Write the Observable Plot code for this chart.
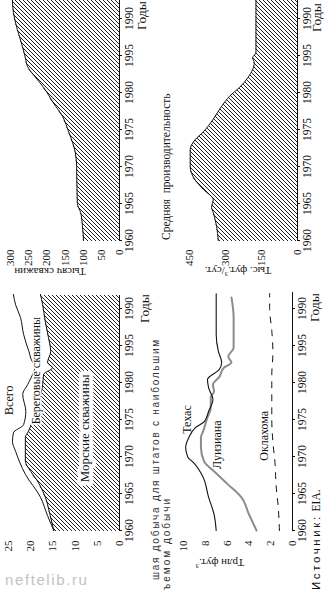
<!DOCTYPE html>
<html><head><meta charset="utf-8">
<script src="https://cdn.jsdelivr.net/npm/d3@7"></script>
<script src="https://cdn.jsdelivr.net/npm/@observablehq/plot@0.6"></script>
<style>
html,body{margin:0;padding:0;background:#fff;width:324px;height:591px;overflow:hidden}
#frame{position:absolute;left:0;top:0;width:591px;height:324px;transform-origin:0 0;transform:translate(0,591px) rotate(-90deg);overflow:hidden;font-family:"Liberation Serif",serif;color:#111;background:#fff}
#wm{position:absolute;left:5px;top:572px;font-family:"Liberation Sans",sans-serif;font-size:15px;line-height:16px;letter-spacing:1.6px;color:#c2c2c2;white-space:nowrap}
</style></head><body><div id="frame"></div><div id="wm">neftelib.ru</div>
<script>
// ---------- data ----------
const tickYears = [1960, 1965, 1970, 1975, 1980, 1985, 1990];
const tickYearLabels = ["1960", "1965", "1970", "1975", "1980", "1995", "1990"];

// Тысяч скважин
const wellYears = [1960, 1962, 1963.8, 1965, 1967, 1970, 1972, 1973.2, 1974.7, 1976.8, 1978.6, 1980.7, 1982.4, 1983.5, 1984.7, 1986.2, 1988.5, 1990.8, 1992.8];
const wellCounts = [99, 102, 107, 116, 117, 118, 122, 129, 140, 157, 182, 209, 237, 253, 259, 267, 281, 292, 295];
const wellTicks = [0, 50, 100, 150, 200, 250, 300];

// Всего / Морские скважины
const totalYears = [1960, 1962, 1964.5, 1967.6, 1970.7, 1972, 1973.2, 1974.3, 1976.1, 1978.4, 1979.7, 1981.5, 1982.3, 1982.7, 1984.2, 1986.5, 1988.8, 1990.5, 1991.9];
const totalValues = [14.8, 16.2, 17.8, 21.2, 23.4, 24.1, 23.9, 21.6, 21.1, 21.8, 20.7, 19.3, 18.9, 19.5, 20.4, 21.6, 22.3, 23.4, 23.9];
const seaYears = [1960, 1962, 1964.5, 1966.7, 1968, 1969.4, 1972.6, 1973.4, 1975.3, 1977.4, 1979.7, 1981.1, 1982, 1982.7, 1984.2, 1986.1, 1988.2, 1990.5, 1991.9];
const seaValues = [14.8, 15.6, 16.7, 18.5, 20.0, 21.2, 21.2, 20.5, 19.4, 18.2, 17.3, 17.1, 15.1, 16.2, 15.5, 16.0, 16.7, 17.3, 17.8];
const prodTicks = [0, 5, 10, 15, 20, 25];

// Штаты
const texasYears = [1960, 1962.2, 1964.5, 1967.2, 1969.2, 1969.9, 1971.2, 1972.6, 1973.9, 1974.7, 1976.1, 1977.7, 1979.3, 1980.4, 1981.8, 1982.7, 1984.2, 1986.5, 1988.8, 1992];
const texasValues = [7.0, 7.2, 7.7, 8.2, 9.1, 9.6, 9.8, 9.5, 8.9, 8.1, 7.7, 7.3, 7.7, 7.8, 6.7, 6.5, 6.8, 7.0, 7.0, 7.0];
const louisYears = [1960, 1962.2, 1964.5, 1966.2, 1968, 1969.3, 1971.2, 1972.6, 1973.4, 1975.3, 1976.6, 1978, 1978.8, 1979.7, 1980.8, 1982, 1982.7, 1983.5, 1984.7, 1986.5, 1988.8, 1991.5];
const louisValues = [3.3, 4.0, 4.7, 5.9, 7.2, 8.1, 8.4, 8.4, 8.2, 7.8, 7.5, 7.5, 7.2, 7.3, 6.7, 6.3, 5.6, 5.9, 5.4, 5.4, 5.4, 5.6];
const oklaYears = [1960, 1963, 1966, 1969, 1972, 1975, 1978, 1981, 1984, 1987, 1990, 1992];
const oklaValues = [1.2, 1.3, 1.5, 1.6, 1.8, 1.9, 1.9, 1.9, 1.8, 1.9, 2.1, 2.1];
const stateTicks = [0, 2, 4, 6, 8, 10];

// Средняя производительность
const rateYears = [1960, 1961.9, 1963.8, 1964.5, 1965.5, 1966.9, 1968.2, 1970, 1972.3, 1973.6, 1974.7, 1976.4, 1978.1, 1979.5, 1980.7, 1982, 1983.1, 1984, 1984.7, 1985.4, 1988, 1992.8];
const rateValues = [330, 337, 351, 358, 351, 392, 427, 447, 447, 427, 392, 351, 317, 283, 241, 207, 187, 180, 187, 173, 173, 173];
const rateTicks = [0, 150, 300, 450];

// labels
const prodLabels = [
  {year: 1977.6, value: 24.8, text: "Всего", size: 12, halo: 0},
  {year: 1981.6, value: 18.7, text: "Береговые скважины", size: 12, halo: 3},
  {year: 1973.8, value: 7.9, text: "Морские скважины", size: 13, halo: 8}
];
const stateLabels = [
  {year: 1975, value: 9.7, text: "Техас"},
  {year: 1971.6, value: 6.9, text: "Луизиана"},
  {year: 1972.8, value: 2.6, text: "Оклахома"}
];

// ---------- helpers ----------
const zip = (xs, ys) => xs.map((x, i) => ({year: x, value: ys[i]}));
const frame = document.getElementById("frame");
const SERIF = "Liberation Serif";
const yearFmt = d => tickYearLabels[tickYears.indexOf(d)];

function addHatch(svg, id) {
  const defs = d3.select(svg).insert("defs", ":first-child");
  const p = defs.append("pattern").attr("id", id).attr("patternUnits", "userSpaceOnUse").attr("width", 4).attr("height", 4);
  p.append("path").attr("d", "M-1,1L1,-1M0,4L4,0M3,5L5,3").attr("stroke", "#161616").attr("stroke-width", 0.95);
  d3.select(svg).selectAll("g[aria-label='area'] path").attr("fill", `url(#${id})`);
}
function place(svg, left, top) {
  svg.style.position = "absolute";
  svg.style.left = left + "px";
  svg.style.top = top + "px";
  svg.style.overflow = "visible";
  frame.appendChild(svg);
}
function txt(s, u, v, size, extra) {
  const d = document.createElement("div");
  d.innerHTML = s;
  d.style.cssText = `position:absolute;left:${u}px;top:${v - size * 0.6}px;font-size:${size}px;line-height:${size * 1.2}px;white-space:nowrap;` + (extra || "");
  frame.appendChild(d);
  return d;
}
function vtxt(s, u, v, size, extra) {
  const d = document.createElement("div");
  d.innerHTML = s;
  d.style.cssText = `position:absolute;left:${u}px;top:${v}px;font-size:${size}px;line-height:${size * 1.2}px;white-space:nowrap;transform-origin:0 0;transform:rotate(-90deg) translate(-50%,-50%);` + (extra || "");
  frame.appendChild(d);
  return d;
}
const baseStyle = {fontFamily: SERIF, fontSize: "11px", background: "transparent", color: "#111", overflow: "visible"};
function xAxis() {
  return Plot.axisX({ticks: tickYears, tickFormat: yearFmt, tickSize: 3, tickPadding: 2, fontSize: 11.5, fontFamily: SERIF, label: null});
}
function yAxis(ticks, pad) {
  return Plot.axisY({ticks, tickSize: 0, tickPadding: pad, fontSize: 11, fontFamily: SERIF, label: null});
}

// ---------- panel B: production (top-left) ----------
const seaData = zip(seaYears, seaValues);
const totalData = zip(totalYears, totalValues);
const pB = Plot.plot({
  width: 300, height: 160, marginLeft: 60, marginRight: 4, marginTop: 8, marginBottom: 41,
  x: {domain: [1960, 1960 + 236 / 7.4]},
  y: {domain: [0, 25]},
  style: baseStyle,
  marks: [
    Plot.areaY(seaData, {x: "year", y: "value", fill: "#999", curve: "monotone-x"}),
    Plot.lineY(seaData, {x: "year", y: "value", stroke: "#111", strokeWidth: 1, curve: "monotone-x"}),
    Plot.lineY(totalData, {x: "year", y: "value", stroke: "#111", strokeWidth: 1, curve: "monotone-x"}),
    Plot.ruleY([0], {stroke: "#111"}),
    Plot.text(prodLabels, {x: "year", y: "value", text: "text", fontSize: d => d.size, fontFamily: SERIF, fill: "#111", stroke: "white", strokeWidth: d => d.halo, strokeLinejoin: "round"}),
    xAxis(),
    yAxis(prodTicks, 10)
  ]
});
addHatch(pB, "hB");
place(pB, 0, 0);

// ---------- panel A: wells (top-right) ----------
const wellData = zip(wellYears, wellCounts);
const pA = Plot.plot({
  width: 303, height: 160, marginLeft: 60, marginRight: 0, marginTop: 10, marginBottom: 41,
  x: {domain: [1960, 1960 + 243 / 7.4]},
  y: {domain: [0, 300]},
  style: baseStyle,
  marks: [
    Plot.areaY(wellData, {x: "year", y: "value", fill: "#999", curve: "monotone-x"}),
    Plot.lineY(wellData, {x: "year", y: "value", stroke: "#111", strokeWidth: 1, curve: "monotone-x"}),
    Plot.ruleY([0], {stroke: "#111"}),
    xAxis(),
    yAxis(wellTicks, 9)
  ]
});
addHatch(pA, "hA");
place(pA, 290, 0);

// ---------- panel C: states (bottom-left) ----------
const pC = Plot.plot({
  width: 300, height: 164, marginLeft: 60, marginRight: 1, marginTop: 23, marginBottom: 32,
  x: {domain: [1960, 1960 + 239 / 7.4]},
  y: {domain: [0, 10]},
  style: baseStyle,
  marks: [
    Plot.lineY(zip(oklaYears, oklaValues), {x: "year", y: "value", stroke: "#111", strokeWidth: 1, strokeDasharray: "6,7", curve: "monotone-x"}),
    Plot.lineY(zip(louisYears, louisValues), {x: "year", y: "value", stroke: "#8c8c8c", strokeWidth: 2, curve: "monotone-x"}),
    Plot.lineY(zip(texasYears, texasValues), {x: "year", y: "value", stroke: "#111", strokeWidth: 1.1, curve: "monotone-x"}),
    Plot.ruleY([0], {stroke: "#111"}),
    Plot.text(stateLabels, {x: "year", y: "value", text: "text", fontSize: 12, fontFamily: SERIF, fill: "#111"}),
    xAxis(),
    yAxis(stateTicks, 10)
  ]
});
place(pC, 0, 160);

// ---------- panel D: productivity (bottom-right) ----------
const rateData = zip(rateYears, rateValues);
const pD = Plot.plot({
  width: 303, height: 164, marginLeft: 60, marginRight: 0, marginTop: 29, marginBottom: 27,
  x: {domain: [1960, 1960 + 243 / 7.4]},
  y: {domain: [0, 450]},
  style: baseStyle,
  marks: [
    Plot.areaY(rateData, {x: "year", y: "value", fill: "#999", curve: "monotone-x"}),
    Plot.lineY(rateData, {x: "year", y: "value", stroke: "#111", strokeWidth: 1, curve: "monotone-x"}),
    Plot.ruleY([0], {stroke: "#111"}),
    xAxis(),
    yAxis(rateTicks, 9)
  ]
});
addHatch(pD, "hD");
place(pD, 290, 160);

// ---------- texts ----------
txt("Годы", 561, 142, 13.5);
txt("Годы", 268, 145, 13.5);
txt("Годы", 269, 315, 13.5);
txt("Годы", 559, 317, 13.5);
vtxt("Тысяч скважин", 320, 50, 11);
vtxt("Тыс. фут.<sup style='font-size:7px'>3</sup>/сут.", 319, 238, 11);
vtxt("Трлн фут.<sup style='font-size:7px'>3</sup>", 27, 220, 11);
txt("Средняя  производительность", 351, 167, 11.5, "white-space:pre;");
txt("шая добыча для штатов с наибольшим", 11, 156, 10, "font-family:'Liberation Sans',sans-serif;letter-spacing:1.75px;color:#333;");
txt("ъемом добычи", 1, 167, 10, "font-family:'Liberation Sans',sans-serif;letter-spacing:2px;color:#333;");
txt("<span style=\"font-family:'Liberation Sans',sans-serif;letter-spacing:2.6px\">Источник:</span> EIA.", 1, 317, 11.5);
</script></body></html>
